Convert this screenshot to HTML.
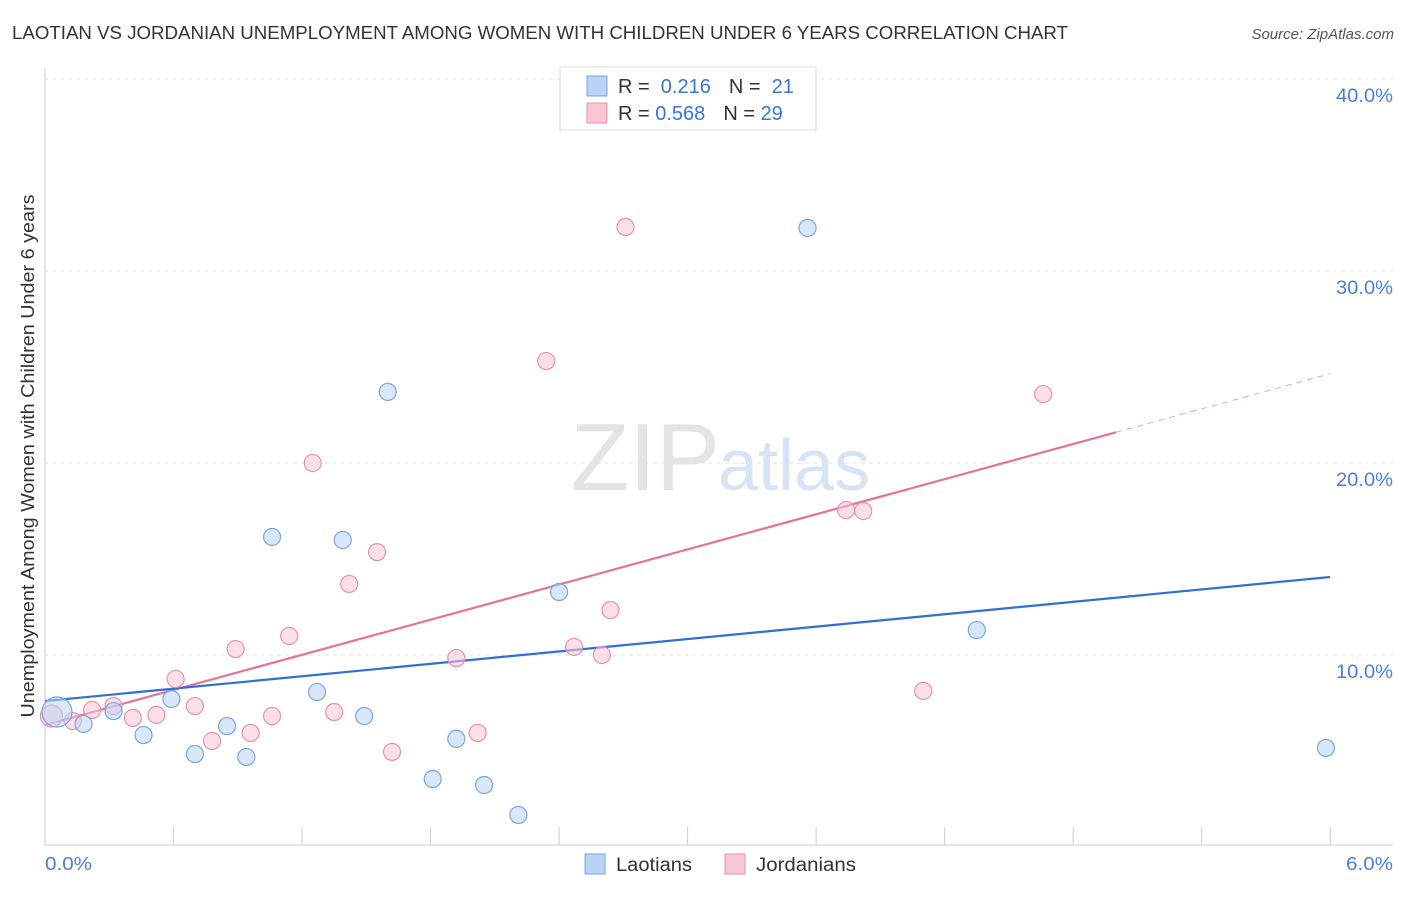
<!DOCTYPE html>
<html><head><meta charset="utf-8"><style>
body{margin:0;background:#fff;font-family:"Liberation Sans",sans-serif;}
svg text{font-family:"Liberation Sans",sans-serif;}
</style></head><body>
<svg id="chart" width="1406" height="892" xmlns="http://www.w3.org/2000/svg">
<text x="12" y="39" font-size="18" fill="#333" textLength="1056" lengthAdjust="spacingAndGlyphs">LAOTIAN VS JORDANIAN UNEMPLOYMENT AMONG WOMEN WITH CHILDREN UNDER 6 YEARS CORRELATION CHART</text>
<text x="1394" y="39" font-size="15" fill="#555" font-style="italic" text-anchor="end">Source: ZipAtlas.com</text>
<text x="720" y="490" font-size="96" fill="#e4e4e4" font-family="Liberation Serif" text-anchor="end">ZIP</text>
<text x="718" y="490" font-size="72" fill="#d6e4f5">atlas</text>
<g id="grid"></g><g id="axes"></g><g id="trends"></g><g id="points"></g>
<text transform="translate(34,456) rotate(-90)" font-size="18" fill="#333" text-anchor="middle" textLength="523" lengthAdjust="spacingAndGlyphs">Unemployment Among Women with Children Under 6 years</text>
<text x="45" y="870" font-size="18" fill="#4a7fd4" textLength="47" lengthAdjust="spacingAndGlyphs">0.0%</text>
<text x="1393" y="870" font-size="18" fill="#4a7fd4" text-anchor="end" textLength="47" lengthAdjust="spacingAndGlyphs">6.0%</text>
<g>
<rect x="560" y="67" width="256" height="63" fill="#fff" stroke="#ddd"/>
<rect x="587" y="76" width="20" height="20" fill="#b9d3f5" stroke="#7aa6e0"/>
<rect x="587" y="103" width="20" height="20" fill="#f9c6d4" stroke="#e792ab"/>
<text x="618" y="93" font-size="20" fill="#333">R = <tspan fill="#3b74d1">&#160;0.216</tspan><tspan dx="18" fill="#333">N = </tspan><tspan fill="#3b74d1">&#160;21</tspan></text>
<text x="618" y="120" font-size="20" fill="#333">R = <tspan fill="#3b74d1">0.568</tspan><tspan dx="18" fill="#333">N = </tspan><tspan fill="#3b74d1">29</tspan></text>
</g>
<g>
<rect x="585" y="854" width="20" height="20" fill="#b9d3f5" stroke="#7aa6e0"/>
<text x="616" y="871" font-size="19" fill="#333" textLength="76" lengthAdjust="spacingAndGlyphs">Laotians</text>
<rect x="725" y="854" width="20" height="20" fill="#f9c6d4" stroke="#e792ab"/>
<text x="756" y="871" font-size="19" fill="#333" textLength="100" lengthAdjust="spacingAndGlyphs">Jordanians</text>
</g>
</svg>
<script>
const blueX=[0.056,0.18,0.32,0.46,0.59,0.70,0.85,0.94,1.06,1.27,1.39,1.49,1.60,1.81,1.92,2.05,2.21,2.40,3.56,4.35,5.98];
const blueY=[7.03,6.41,7.08,5.83,7.71,4.84,6.30,4.69,16.15,8.07,15.99,6.82,23.70,3.54,5.63,3.23,1.67,13.28,32.24,11.30,5.16];
const pinkX=[0.03,0.13,0.22,0.32,0.41,0.52,0.61,0.70,0.78,0.89,0.96,1.06,1.14,1.25,1.35,1.42,1.55,1.62,1.92,2.02,2.34,2.47,2.60,2.64,2.71,3.74,3.82,4.10,4.66];
const pinkY=[6.82,6.56,7.14,7.34,6.72,6.88,8.75,7.34,5.52,10.31,5.94,6.82,10.99,20.0,7.03,13.70,15.36,4.95,9.84,5.94,25.31,10.42,10.0,12.34,32.29,17.55,17.50,8.13,23.59];
const blueTrend=[7.6,1.077];
const pinkTrend=[6.35,3.05];
const yTicks=[10,20,30,40];
const xTicks=[0,0.6,1.2,1.8,2.4,3.0,3.6,4.2,4.8,5.4,6.0];
const NS="http://www.w3.org/2000/svg";
const sx=v=>45+v*214.2, sy=v=>847-v*19.2;
function mk(t,a,p){const e=document.createElementNS(NS,t);for(const k in a)e.setAttribute(k,a[k]);p.appendChild(e);return e;}
const grid=document.getElementById('grid'),axes=document.getElementById('axes'),tr=document.getElementById('trends'),pts=document.getElementById('points');
yTicks.forEach(v=>{
 const l=mk('line',{x1:45,x2:1393,y1:sy(v),y2:sy(v),stroke:'#e2e2e2','stroke-dasharray':'4,4'},grid);
 
 
 const t=mk('text',{x:1393,y:sy(v)+23,'font-size':19,fill:'#4a7fd4','text-anchor':'end',textLength:57,lengthAdjust:'spacingAndGlyphs'},grid);
 t.textContent=v.toFixed(1)+'%';
 
 
});
let a=mk('line',{x1:45,x2:45,y1:68,y2:845,stroke:'#ccc'},axes);


a=mk('line',{x1:45,x2:1393,y1:845,y2:845,stroke:'#ccc'},axes);


xTicks.forEach(v=>{if(v===0)return;
 const l=mk('line',{x1:sx(v),x2:sx(v),y1:827,y2:845,stroke:'#ccc'},axes);
 
 
});
function line(tp,x0,x1,col,dash,name){
 const l=mk('line',{x1:sx(x0),x2:sx(x1),y1:sy(tp[0]+tp[1]*x0),y2:sy(tp[0]+tp[1]*x1),stroke:col,'stroke-width':dash?1:2.2},tr);
 if(dash)l.setAttribute('stroke-dasharray','6,5');
 
 
}
line(pinkTrend,5.0,6.0,'#f0a0b8',true,'jordanian-trend-extension');
line(pinkTrend,0,5.0,'#e8719a',false,'jordanian-trend-line');
line(blueTrend,0,6.0,'#2f6fd6',false,'laotian-trend-line');
function dots(X,Y,fill,stroke,name,big){
 X.forEach((x,i)=>{
  const r=i===0?big:8.5;
  const c=mk('circle',{cx:sx(x),cy:sy(Y[i]),r:r,fill:fill,'fill-opacity':0.55,stroke:stroke,'stroke-width':1.2},pts);
  
  
 });
}
dots(pinkX,pinkY,'#f9c6d4','#e792ab','jordanian-point',11);
dots(blueX,blueY,'#b9d3f5','#7aa6e0','laotian-point',15);
</script>
</body></html>
